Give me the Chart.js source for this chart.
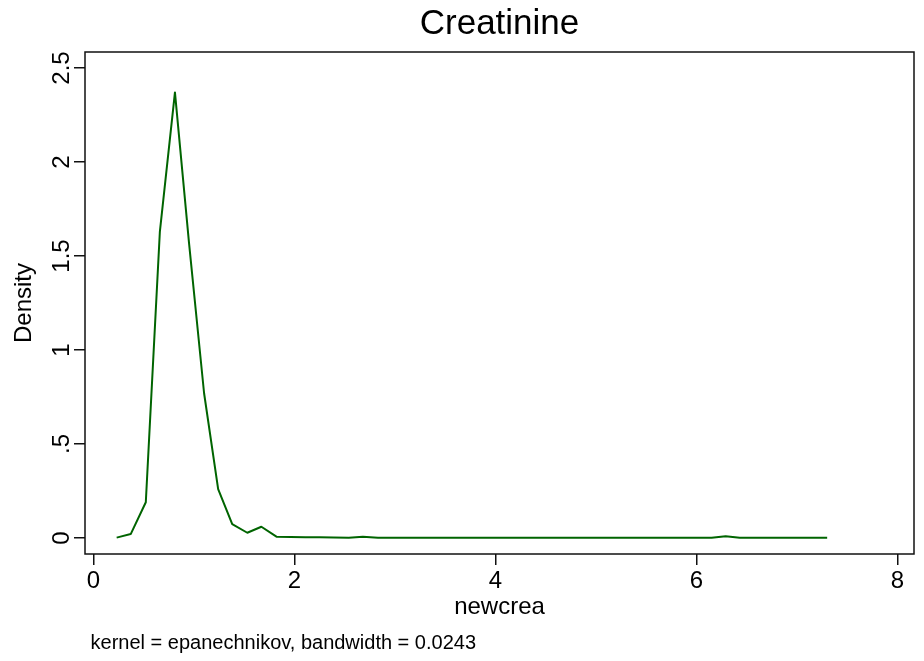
<!DOCTYPE html>
<html>
<head>
<meta charset="utf-8">
<script src="https://cdn.jsdelivr.net/npm/chart.js@4/dist/chart.umd.min.js"></script>
<style>
  html, body { margin: 0; padding: 0; background: #fff; }
  #wrap { width: 924px; height: 661px; }
</style>
</head>
<body>
<div id="wrap"><canvas id="kdChart" width="924" height="661"></canvas></div>
<script>
// kdensity newcrea - punkty
const creaX = [0.23, 0.37, 0.52, 0.66, 0.81, 0.95, 1.10, 1.24, 1.38, 1.53,
               1.67, 1.82, 1.96, 2.11, 2.25, 2.39, 2.54, 2.68, 2.83, 2.97,
               3.12, 3.26, 3.40, 3.55, 3.69, 3.84, 3.98, 4.13, 4.27, 4.41,
               4.56, 4.70, 4.85, 4.99, 5.14, 5.28, 5.42, 5.57, 5.71, 5.86,
               6.00, 6.15, 6.29, 6.43, 6.58, 6.72, 6.87, 7.01, 7.16, 7.30];
const density = [0.002, 0.021, 0.19, 1.63, 2.37, 1.57, 0.77, 0.26, 0.074, 0.028,
                 0.060, 0.007, 0.005, 0.004, 0.004, 0.003, 0.001, 0.007, 0.001, 0.001,
                 0.001, 0.001, 0.002, 0.001, 0.001, 0.001, 0.001, 0.001, 0.001, 0.001,
                 0.001, 0.001, 0.001, 0.001, 0.001, 0.001, 0.001, 0.001, 0.001, 0.001,
                 0.001, 0.002, 0.010, 0.002, 0.001, 0.001, 0.001, 0.001, 0.001, 0.001];
const xTicks = [0, 2, 4, 6, 8];
const yTicks = [0, 0.5, 1, 1.5, 2, 2.5];
const yTickLabels = ['0', '.5', '1', '1.5', '2', '2.5'];

Chart.defaults.font.family = "'Liberation Sans', Arial, sans-serif";
Chart.defaults.color = '#000';

// ramka wokol obszaru wykresu (jak w Stata)
const plotFrame = {
    id: 'plotFrame',
    beforeDatasetsDraw(chart) {
        const {ctx, chartArea: a} = chart;
        ctx.save();
        ctx.strokeStyle = '#111';
        ctx.lineWidth = 1.5;
        ctx.strokeRect(a.left, a.top, a.right - a.left, a.bottom - a.top);
        ctx.restore();
    }
};

const ctx = document.getElementById('kdChart').getContext('2d');
const kdChart = new Chart(ctx, {
    type: 'scatter',
    data: {
        datasets: [{
            label: 'newcrea',
            data: creaX.map((x, i) => ({x: x, y: density[i]})),
            showLine: true,
            borderColor: '#006400',
            borderWidth: 2,
            borderJoinStyle: 'round',
            pointRadius: 0,
            tension: 0
        }]
    },
    options: {
        responsive: false,
        animation: false,
        layout: { padding: { top: 0, right: 10, bottom: 0, left: 0 } },
        plugins: {
            legend: { display: false },
            tooltip: { enabled: false },
            title: {
                display: true,
                text: 'Creatinine',
                fullSize: false,
                font: { size: 35, weight: 'normal' },
                padding: { top: 3.5, bottom: 6.5 }
            },
            subtitle: {
                display: true,
                text: ' kernel = epanechnikov, bandwidth = 0.0243',
                position: 'bottom',
                align: 'start',
                fullSize: false,
                font: { size: 20 },
                padding: { top: 2, bottom: 6 }
            }
        },
        scales: {
            x: {
                type: 'linear',
                min: -0.085,
                max: 8.164,
                afterBuildTicks: s => { s.ticks = xTicks.map(v => ({value: v})); },
                afterFit: s => { s.height = 75; },
                border: { display: false },
                grid: { drawOnChartArea: false, drawTicks: true, tickLength: 11, color: '#111', lineWidth: 1.5 },
                ticks: { autoSkip: false, padding: 1.6, font: { size: 24 }, maxRotation: 0,
                         callback: v => String(v) },
                title: { display: true, text: 'newcrea', font: { size: 24 }, padding: { top: 0, bottom: 7 } }
            },
            y: {
                type: 'linear',
                min: -0.085,
                max: 2.585,
                afterBuildTicks: s => { s.ticks = yTicks.map(v => ({value: v})); },
                afterFit: s => { s.width = 85; },
                border: { display: false },
                grid: { drawOnChartArea: false, drawTicks: true, tickLength: 11, color: '#111', lineWidth: 1.5 },
                ticks: { autoSkip: false, padding: -4.7, crossAlign: 'center', minRotation: 90, maxRotation: 90,
                         font: { size: 24 },
                         callback: v => yTickLabels[yTicks.indexOf(v)] },
                title: { display: true, text: 'Density', font: { size: 24 }, padding: { top: 9.6, bottom: 0 } }
            }
        }
    },
    plugins: [plotFrame]
});
</script>
</body>
</html>
